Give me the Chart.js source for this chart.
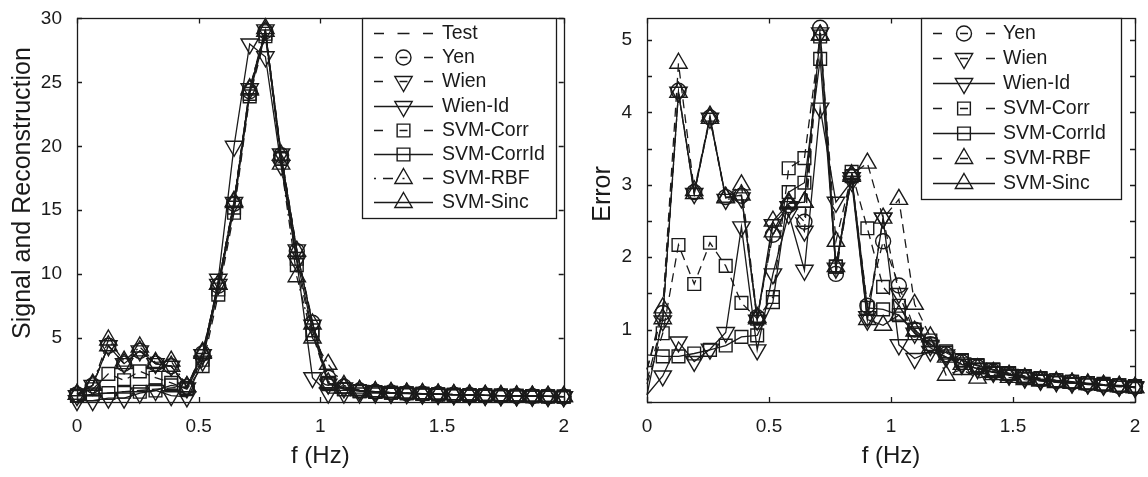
<!DOCTYPE html>
<html><head><meta charset="utf-8">
<script src="https://cdn.jsdelivr.net/npm/chart.js@4.4.1/dist/chart.umd.min.js"></script>
<style>
html,body{margin:0;padding:0;background:#fff;overflow:hidden}
#wrap{position:relative;width:1148px;height:477px}
canvas{position:absolute;top:0}
#c1{left:0}
#c2{left:574px}
</style></head><body>
<div id="wrap"><canvas id="c1" width="574" height="477"></canvas><canvas id="c2" width="574" height="477"></canvas></div>
<script>
// ---------- data ----------
const freq = [0,0.0645,0.129,0.1935,0.2581,0.3226,0.3871,0.4516,0.5161,0.5806,0.6452,0.7097,0.7742,0.8387,0.9032,0.9677,1.0323,1.0968,1.1613,1.2258,1.2903,1.3548,1.4194,1.4839,1.5484,1.6129,1.6774,1.7419,1.8065,1.871,1.9355,2];
const xTicks = [0, 0.5, 1, 1.5, 2];
const xTickLabels = ['0', '0.5', '1', '1.5', '2'];

// Signal and reconstruction (left panel)
const testS   = [0.5,0.6,0.7,0.8,0.9,1.0,1.1,1.2,3.6,9.2,15.6,24.4,29.0,19.4,11.9,6.3,1.6,1.1,0.9,0.8,0.75,0.7,0.65,0.62,0.58,0.55,0.52,0.5,0.48,0.46,0.44,0.42];
const yenS    = [0.6,1.3,4.4,3.0,4.0,3.0,2.8,1.2,3.8,9.1,15.5,24.3,29.0,19.3,11.8,6.2,1.9,1.2,0.9,0.8,0.74,0.69,0.65,0.62,0.58,0.55,0.52,0.5,0.48,0.46,0.44,0.42];
const wienS   = [0.5,1.3,4.4,3.0,4.0,3.0,2.8,1.1,3.7,9.2,15.6,24.5,29.1,19.4,11.9,6.0,1.4,1.1,0.9,0.8,0.74,0.69,0.65,0.61,0.58,0.55,0.52,0.5,0.48,0.46,0.44,0.42];
const wienIdS = [0.1,0.1,0.3,0.3,0.7,0.9,0.5,0.4,3.2,9.6,20.0,28.0,27.0,18.5,11.0,1.9,0.7,0.7,0.7,0.7,0.68,0.65,0.62,0.6,0.57,0.54,0.52,0.5,0.48,0.46,0.44,0.42];
const corrS   = [0.5,1.0,2.2,1.7,2.4,1.9,1.5,1.0,2.8,8.4,14.8,23.9,28.6,19.0,10.7,5.3,1.5,1.0,0.85,0.78,0.72,0.68,0.64,0.6,0.57,0.54,0.52,0.5,0.48,0.46,0.44,0.42];
const corrIdS = [0.5,0.6,0.7,0.8,0.8,0.9,1.3,1.1,3.3,8.8,15.2,24.1,28.8,19.1,11.2,5.6,1.4,1.0,0.85,0.78,0.72,0.68,0.64,0.6,0.57,0.54,0.52,0.5,0.48,0.46,0.44,0.42];
const rbfS    = [0.6,1.4,4.85,3.2,4.3,3.1,3.2,1.2,3.9,9.2,15.7,24.5,29.2,18.6,9.8,5.0,2.95,1.3,0.9,0.8,0.74,0.69,0.65,0.61,0.58,0.55,0.52,0.5,0.48,0.46,0.44,0.42];
const sincS   = [0.6,1.3,4.4,3.0,4.0,3.0,2.8,1.2,3.8,9.2,15.6,24.4,29.0,19.3,11.8,6.1,1.5,1.1,0.9,0.8,0.74,0.69,0.65,0.61,0.58,0.55,0.52,0.5,0.48,0.46,0.44,0.42];

// Error (right panel)
const yenE    = [0.45,1.23,4.30,2.90,3.93,2.83,2.85,1.17,2.31,2.72,2.49,5.17,1.77,3.12,1.33,2.22,1.61,1.00,0.80,0.66,0.55,0.48,0.42,0.38,0.34,0.31,0.29,0.27,0.25,0.24,0.22,0.21];
const wienE   = [0.30,1.12,4.28,2.88,3.92,2.80,2.82,1.13,2.45,2.70,2.36,5.10,1.85,3.10,1.18,2.54,1.50,0.95,0.78,0.65,0.54,0.47,0.42,0.38,0.34,0.31,0.29,0.27,0.25,0.24,0.22,0.21];
const wienIdE = [0.10,0.36,0.83,0.56,0.73,0.96,2.42,0.72,1.77,2.60,1.82,4.06,2.76,3.05,1.13,2.54,0.79,0.60,0.70,0.62,0.52,0.46,0.41,0.37,0.33,0.30,0.28,0.26,0.25,0.23,0.22,0.20];
const corrE   = [0.25,0.95,2.17,1.63,2.20,1.88,1.37,1.15,1.45,3.23,3.37,5.05,1.87,3.18,2.40,1.59,1.33,1.00,0.85,0.70,0.58,0.51,0.45,0.40,0.36,0.33,0.30,0.28,0.26,0.25,0.23,0.22];
const corrIdE = [0.65,0.63,0.63,0.67,0.72,0.78,0.90,0.92,1.38,2.90,3.03,4.74,1.87,3.12,1.30,1.28,1.20,0.95,0.80,0.68,0.57,0.50,0.44,0.39,0.35,0.32,0.30,0.28,0.26,0.24,0.23,0.21];
const rbfE    = [0.45,1.30,4.68,2.92,3.95,2.83,3.00,1.17,2.35,2.76,2.76,5.07,2.22,3.14,3.30,2.54,2.80,1.35,0.90,0.37,0.45,0.33,0.38,0.34,0.31,0.29,0.27,0.26,0.24,0.23,0.21,0.20];
const sincE   = [0.10,1.15,4.28,2.88,3.92,2.82,2.86,1.15,2.50,2.74,2.76,5.07,1.87,3.12,1.14,1.06,1.20,0.98,0.75,0.62,0.52,0.46,0.41,0.37,0.33,0.30,0.28,0.26,0.25,0.23,0.22,0.20];

const leftNames  = ['Test','Yen','Wien','Wien-Id','SVM-Corr','SVM-CorrId','SVM-RBF','SVM-Sinc'];
const rightNames = ['Yen','Wien','Wien-Id','SVM-Corr','SVM-CorrId','SVM-RBF','SVM-Sinc'];

// ---------- styling ----------
const INK = '#1a1a1a';
const FONT = '"Liberation Sans", Arial, Helvetica, sans-serif';
Chart.defaults.font.family = FONT;
Chart.defaults.color = INK;

const DASH = [9, 6];
const DASHDOT = [9, 4, 2, 4];
const styles = {
  'Test':       {dash: DASH, marker: null},
  'Yen':        {dash: DASH, marker: 'circle', r: 7.5, rot: 0},
  'Wien':       {dash: DASH, marker: 'triangle', r: 10, rot: 180},
  'Wien-Id':    {dash: [], marker: 'triangle', r: 10, rot: 180},
  'SVM-Corr':   {dash: DASH, marker: 'rect', r: 9, rot: 0},
  'SVM-CorrId': {dash: [], marker: 'rect', r: 9, rot: 0},
  'SVM-RBF':    {dash: DASH, marker: 'triangle', r: 10, rot: 0},
  'SVM-Sinc':   {dash: [], marker: 'triangle', r: 10, rot: 0}
};

function pts(vals){ return freq.map((f,i)=>({x:f, y:vals[i]})); }

function makeDataset(name, vals, opts){
  const st = styles[name];
  const dash = (opts && opts.dash) || st.dash;
  const hideFirst = opts && opts.hideFirst;
  const r = st.marker ? st.r : 0;
  return {
    label: name,
    data: pts(vals),
    borderColor: INK,
    backgroundColor: 'transparent',
    borderWidth: 1.3,
    borderDash: dash,
    tension: 0,
    pointStyle: st.marker || 'circle',
    pointRotation: st.rot || 0,
    pointRadius: hideFirst ? (c => c.dataIndex === 0 ? 0 : r) : r,
    pointHoverRadius: r,
    pointBorderColor: INK,
    pointBackgroundColor: 'transparent',
    pointBorderWidth: 1.4,
    clip: false
  };
}

function drawMarker(ctx, style, r, rotDeg, x, y){
  ctx.beginPath();
  if (style === 'circle') {
    ctx.arc(x, y, r, 0, Math.PI*2);
  } else if (style === 'rect') {
    const s = Math.SQRT1_2 * r;
    ctx.rect(x - s, y - s, 2*s, 2*s);
  } else if (style === 'triangle') {
    let rad = rotDeg * Math.PI / 180;
    ctx.moveTo(x + Math.sin(rad)*r, y - Math.cos(rad)*r);
    rad += 2*Math.PI/3;
    ctx.lineTo(x + Math.sin(rad)*r, y - Math.cos(rad)*r);
    rad += 2*Math.PI/3;
    ctx.lineTo(x + Math.sin(rad)*r, y - Math.cos(rad)*r);
    ctx.closePath();
  }
  ctx.stroke();
}

const framePlugin = {
  id: 'mframe',
  afterDraw(chart, args, opts){
    const ctx = chart.ctx;
    const a = chart.chartArea;
    const xs = chart.scales.x, ys = chart.scales.y;
    ctx.save();
    ctx.strokeStyle = INK;
    ctx.lineWidth = 1.3;
    ctx.setLineDash([]);
    ctx.strokeRect(Math.round(a.left)+0.5, Math.round(a.top)+0.5, Math.round(a.right-a.left), Math.round(a.bottom-a.top));
    const TL = 5;
    ctx.beginPath();
    xs.ticks.forEach(t => {
      const px = Math.round(xs.getPixelForValue(t.value)) + 0.5;
      ctx.moveTo(px, a.bottom); ctx.lineTo(px, a.bottom - TL);
      ctx.moveTo(px, a.top); ctx.lineTo(px, a.top + TL);
    });
    ys.ticks.forEach(t => {
      const py = Math.round(ys.getPixelForValue(t.value)) + 0.5;
      ctx.moveTo(a.left, py); ctx.lineTo(a.left + TL, py);
      ctx.moveTo(a.right, py); ctx.lineTo(a.right - TL, py);
    });
    ctx.stroke();

    // y-axis title (text taken from the scale's title option)
    const yt = opts.ytitle;
    if (yt) {
      ctx.save();
      ctx.fillStyle = INK;
      ctx.font = yt.size + 'px ' + FONT;
      ctx.textAlign = 'center';
      ctx.textBaseline = 'middle';
      ctx.translate(yt.x, yt.y);
      ctx.rotate(-Math.PI / 2);
      ctx.fillText(ys.options.title.text, 0, 0);
      ctx.restore();
    }

    // legend
    const L = opts.legend;
    if (L) {
      ctx.fillStyle = '#fff';
      ctx.fillRect(L.x, L.y, L.w, L.h);
      ctx.lineWidth = 1.3;
      ctx.strokeRect(L.x + 0.5, L.y + 0.5, L.w, L.h);
      ctx.font = L.font + 'px ' + FONT;
      ctx.textBaseline = 'middle';
      ctx.textAlign = 'left';
      chart.data.datasets.forEach((ds, i) => {
        const st = styles[ds.label];
        const y = Math.round(L.rowTop + i * L.rowStep) + 0.5;
        const x0 = L.x0, x1 = L.x1, xc = (x0 + x1) / 2;
        ctx.strokeStyle = INK;
        ctx.lineWidth = 1.4;
        ctx.beginPath();
        const seg = (a1, b1) => { ctx.moveTo(a1, y); ctx.lineTo(b1, y); };
        const dash = ds.borderDash || [];
        if (!dash.length) {
          seg(x0, x1);
        } else if (dash.length === 4) {
          seg(x0, x0 + 2); seg(x0 + 9, x0 + 19); seg(xc - 1, xc + 1); seg(x1 - 10, x1);
        } else if (!st.marker) {
          seg(x0, x0 + 10); seg(xc - 6, xc + 6); seg(x1 - 10, x1);
        } else {
          seg(x0, x0 + 9); seg(xc - 4, xc + 4); seg(x1 - 9, x1);
        }
        ctx.stroke();
        if (st.marker) drawMarker(ctx, st.marker, st.r, st.rot, xc, y);
        ctx.fillStyle = INK;
        ctx.fillText(ds.label, L.tx, y);
      });
    }
    ctx.restore();
  }
};

function axisX(){
  return {
    type: 'linear', min: 0, max: 2,
    afterBuildTicks: s => { s.ticks = xTicks.map(v => ({value: v})); },
    ticks: {padding: 5, color: INK, font: {size: 19}, maxRotation: 0, autoSkip: false,
            callback: v => xTickLabels[xTicks.indexOf(v)] ?? String(v)},
    grid: {display: false}, border: {display: false},
    title: {display: true, text: 'f (Hz)', color: INK, font: {size: 24}, padding: 6},
    afterFit: s => { s.height = 75; }
  };
}

function makeChart(id, datasets, yScale, pad, legend, ytitle){
  return new Chart(document.getElementById(id), {
    type: 'line',
    data: {datasets},
    plugins: [framePlugin],
    options: {
      responsive: false, animation: false, devicePixelRatio: 1,
      layout: {padding: pad, autoPadding: false},
      plugins: {legend: {display: false}, tooltip: {enabled: false}, mframe: {legend, ytitle}},
      scales: {x: axisX(), y: yScale}
    }
  });
}

// left panel
const leftSeries = [testS, yenS, wienS, wienIdS, corrS, corrIdS, rbfS, sincS];
const leftDs = leftNames.map((n, i) => makeDataset(n, leftSeries[i], n === 'SVM-RBF' ? {dash: DASHDOT} : null));
makeChart('c1', leftDs, {
  type: 'linear', min: 0, max: 30,
  ticks: {stepSize: 5, padding: 7, color: INK, font: {size: 19}, callback: v => v === 0 ? '' : v},
  grid: {display: false}, border: {display: false},
  title: {display: false, text: 'Signal and Reconstruction'},
  afterFit: s => { s.width = 77; }
}, {top: 8, right: 9, left: 0, bottom: 0},
{x: 362, y: 18, w: 194, h: 200, x0: 374, x1: 433, tx: 442, rowTop: 33, rowStep: 24.2, font: 19.5},
{x: 23, y: 193, size: 25});

// right panel
const rightSeries = [yenE, wienE, wienIdE, corrE, corrIdE, rbfE, sincE];
const rightDs = rightNames.map((n, i) => makeDataset(n, rightSeries[i], {hideFirst: true}));
makeChart('c2', rightDs, {
  type: 'linear', min: 0, max: 5.3,
  ticks: {stepSize: 0.5, includeBounds: false, padding: 7, color: INK, font: {size: 19},
          callback: v => (v > 0 && Math.abs(v - Math.round(v)) < 1e-6) ? String(Math.round(v)) : ''},
  grid: {display: false}, border: {display: false},
  title: {display: false, text: 'Error'},
  afterFit: s => { s.width = 73; }
}, {top: 8, right: 13, left: 0, bottom: 0},
{x: 347, y: 18, w: 200, h: 181, x0: 359, x1: 421, tx: 429, rowTop: 33, rowStep: 25, font: 19.5},
{x: 29, y: 194, size: 25});
</script>
</body></html>
